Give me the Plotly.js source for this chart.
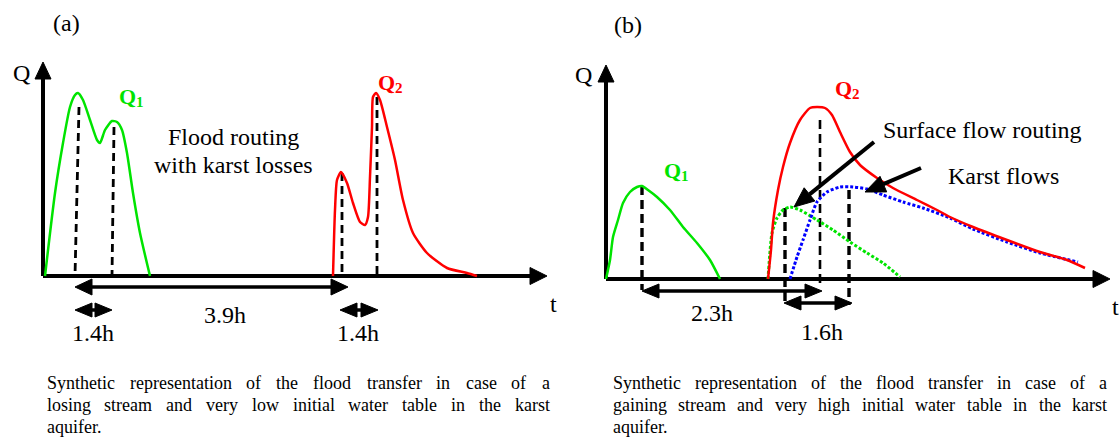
<!DOCTYPE html>
<html><head><meta charset="utf-8">
<script src="https://cdn.plot.ly/plotly-3.0.1.min.js"></script>
<style>html,body{margin:0;padding:0;background:#fff}#chart{width:1119px;height:437px}</style>
</head><body><div id="chart"></div>
<script>
// ---------- Panel (a): losing stream (schematic units) ----------
const q1a_t = [2, 12, 20, 27, 32, 35, 40, 47, 54, 57, 62, 69, 74, 79, 84, 90, 97, 107];
const q1a_q = [0, 83, 133, 169, 181, 183, 176, 156, 136, 133, 146, 155, 154, 146, 123, 83, 43, 0];
const q2a_t = [290, 292, 294, 298, 304, 310, 317, 322, 325, 327, 329, 330, 333, 337, 344, 352, 360, 370, 384, 404, 424, 434];
const q2a_q = [0, 66, 96, 104, 93, 73, 54, 51, 59, 99, 149, 179, 183, 176, 149, 116, 76, 43, 23, 8, 3, 0];
const peaksA_tTop = [36, 71, 299, 334];
const peaksA_qTop = [169, 149, 103, 179];
const peaksA_tBot = [32, 69, 299, 334];
const peaksA_qBot = [0, 0, 0, 0];
const intA_t0 = [32, 32, 297];
const intA_t1 = [305, 69, 335];
const intA_q = [-11, -34, -34];
const intA_label = ['3.9h', '1.4h', '1.4h'];
const intA_labelT = [182, 50, 315];
const intA_labelQ = [-39, -57, -57];

// ---------- Panel (b): gaining stream ----------
const q1b_t = [0, 4, 7, 12, 17, 24, 31, 36, 42, 51, 64, 77, 91, 104, 114];
const q1b_q = [0, 19, 42, 59, 76, 87, 92, 93, 89, 82, 69, 52, 36, 19, 0];
const q2b_t = [162, 165, 167, 172, 177, 184, 194, 204, 211, 219, 226, 234, 244, 254, 271, 287, 311, 331, 344, 367, 401, 434, 461, 479];
const q2b_q = [0, 29, 56, 89, 112, 136, 159, 171, 172, 171, 164, 147, 127, 114, 101, 91, 79, 69, 62, 52, 39, 27, 19, 11];
const surf_t = [162, 166, 171, 177, 184, 194, 211, 227, 244, 261, 277, 294];
const surf_q = [0, 46, 61, 69, 72, 69, 59, 49, 37, 26, 16, 2];
const karst_t = [184, 191, 197, 204, 211, 221, 234, 247, 261, 277, 297, 317, 344, 367, 401, 434, 472];
const karst_q = [0, 22, 39, 59, 77, 87, 92, 92, 90, 84, 77, 71, 61, 50, 37, 26, 17];
const peaksB_t = [36, 179, 214, 243];
const peaksB_qTop = [93, 71, 159, 89];
const peaksB_qBot = [-11, -24, -9, -26];
const intB_t0 = [36, 178];
const intB_t1 = [216, 246];
const intB_q = [-12, -24];
const intB_label = ['2.3h', '1.6h'];
const intB_labelT = [106, 216];
const intB_labelQ = [-34, -53];
// pointer arrows: tail -> tip
const ptr_t0 = [268, 315];
const ptr_q0 = [137, 111];
const ptr_t1 = [188, 259];
const ptr_q1 = [72, 87];

// captions
const captionA = ["Synthetic representation of the flood transfer in case of a",
                  "losing stream and very low initial water table in the karst",
                  "aquifer."];
const captionB = ["Synthetic representation of the flood transfer in case of a",
                  "gaining stream and very high initial water table in the karst",
                  "aquifer."];

const GREEN = 'rgb(0,228,0)', RED = '#ff0000', BLUE = '#0000ff', BLACK = '#000000';
const SERIF = 'Liberation Serif, Times New Roman, serif';
const W = 1119, H = 437;

const traces = [];
const annotations = [];

function line(xs, ys, ax, color, width, dash) {
  traces.push({x: xs, y: ys, xaxis: ax[0], yaxis: ax[1], mode: 'lines',
    line: {color: color, width: width, dash: dash || 'solid', shape: 'spline', smoothing: 0.6},
    hoverinfo: 'skip'});
}
function seg(x0, y0, x1, y1, ax, width, dash) {
  traces.push({x: [x0, x1], y: [y0, y1], xaxis: ax[0], yaxis: ax[1], mode: 'lines',
    line: {color: BLACK, width: width, dash: dash || 'solid'}, hoverinfo: 'skip'});
}
function head(tipX, tipY, fromX, fromY, len, wid, ax) {
  const dx = tipX - fromX, dy = tipY - fromY, L = Math.hypot(dx, dy);
  const ux = dx / L, uy = dy / L, bx = tipX - ux * len, by = tipY - uy * len;
  const px = -uy, py = ux;
  traces.push({x: [tipX, bx + px * wid / 2, bx - px * wid / 2, tipX],
               y: [tipY, by + py * wid / 2, by - py * wid / 2, tipY],
               xaxis: ax[0], yaxis: ax[1], mode: 'lines', fill: 'toself',
               fillcolor: BLACK, line: {color: BLACK, width: 1}, hoverinfo: 'skip'});
  return [bx, by];
}
function arrow(x0, y0, x1, y1, ax, width, len, wid) {
  const b = head(x1, y1, x0, y0, len, wid, ax);
  seg(x0, y0, b[0], b[1], ax, width);
}
function dblArrow(x0, x1, y, ax, width, len, wid) {
  const b1 = head(x0, y, x1, y, len, wid, ax);
  const b2 = head(x1, y, x0, y, len, wid, ax);
  seg(b1[0], y, b2[0], y, ax, width);
}
function label(text, x, y, ax, size, color, weight, xanchor) {
  annotations.push({text: text, x: x, y: y, xref: ax[0], yref: ax[1], showarrow: false,
    xanchor: xanchor || 'center', yanchor: 'middle', borderpad: 0, borderwidth: 0,
    font: {family: SERIF, size: size, color: color || BLACK, weight: weight || 'normal'}});
}
// "Q" with a subscript index, drawn as two plain texts
function qLabel(idx, x, y, ax, color) {
  label('Q', x + 6, y, ax, 22, color, 'bold', 'right');
  label(idx, x + 6, y - 6, ax, 15, color, 'bold', 'left');
}

const A = ['x', 'y'], B = ['x2', 'y2'];

// axes as arrows
arrow(0, 0, 0, 214, A, 4, 17, 16);
arrow(0, 0, 504, 0, A, 4, 17, 17);
arrow(0, 0, 0, 214, B, 4, 17, 16);
arrow(0, 0, 504, 0, B, 4, 17, 17);

// panel a dashed peak lines
for (let i = 0; i < peaksA_tTop.length; i++)
  seg(peaksA_tTop[i], peaksA_qTop[i], peaksA_tBot[i], peaksA_qBot[i], A, 2.8, '8px,5px');
// panel b dashed peak lines
for (let i = 0; i < peaksB_t.length; i++)
  seg(peaksB_t[i], peaksB_qTop[i], peaksB_t[i], peaksB_qBot[i], B, i === 2 ? 2.6 : 3.4, '9px,5px');

// curves
line(q1a_t, q1a_q, A, GREEN, 2.5);
line(q2a_t, q2a_q, A, RED, 2.5);
line(q1b_t, q1b_q, B, GREEN, 2.5);
line(surf_t, surf_q, B, GREEN, 3, '3px,2px');
line(karst_t, karst_q, B, BLUE, 3, '3px,2px');
line(q2b_t, q2b_q, B, RED, 2.5);

// interval arrows + labels
for (let i = 0; i < intA_t0.length; i++) {
  const big = i === 0;
  dblArrow(intA_t0[i], intA_t1[i], intA_q[i], A, 3.5, 17, big ? 16 : 14);
  label(intA_label[i], intA_labelT[i], intA_labelQ[i], A, 24);
}
for (let i = 0; i < intB_t0.length; i++) {
  dblArrow(intB_t0[i], intB_t1[i], intB_q[i], B, 3.5, 17, 14);
  label(intB_label[i], intB_labelT[i], intB_labelQ[i], B, 24);
}
for (let i = 0; i < ptr_t0.length; i++)
  arrow(ptr_t0[i], ptr_q0[i], ptr_t1[i], ptr_q1[i], B, 4, 20, 17);

// text labels
label('(a)', 23, 253, A, 24);
label('Q', -22, 203, A, 24);
label('t', 510, -28, A, 24);
qLabel('1', 87, 180, A, GREEN);
qLabel('2', 346, 194, A, RED);
label('Flood routing', 190, 139, A, 24);
label('with karst losses', 190, 111, A, 24);

label('(b)', 22, 254, B, 24);
label('Q', -23, 204, B, 24);
label('t', 509, -28, B, 24);
qLabel('1', 69, 109, B, GREEN);
qLabel('2', 240, 191, B, RED);
label('Surface flow routing', 376, 149, B, 24);
label('Karst flows', 397, 103, B, 24);

// captions, justified word by word
const CAP_SIZE = 18;
const ctx = document.createElement('canvas').getContext('2d');
ctx.font = CAP_SIZE + 'px "Liberation Serif"';
function caption(lines, x0, x1, yStart, dy) {
  lines.forEach((ln, li) => {
    const words = ln.split(' ');
    const ws = words.map(w => ctx.measureText(w).width);
    const sum = ws.reduce((a, b) => a + b, 0);
    const last = li === lines.length - 1;
    const gap = (!last && words.length > 1) ? (x1 - x0 - sum) / (words.length - 1) : ctx.measureText(' ').width;
    let x = x0;
    const y = yStart + li * dy;
    words.forEach((w, wi) => {
      annotations.push({text: w, x: x / W, y: 1 - y / H, xref: 'paper', yref: 'paper',
        showarrow: false, xanchor: 'left', yanchor: 'middle', borderpad: 0, borderwidth: 0,
        font: {family: SERIF, size: CAP_SIZE, color: BLACK}});
      x += ws[wi] + gap;
    });
  });
}
caption(captionA, 46.5, 549.5, 383, 22);
caption(captionB, 612.5, 1107, 383, 22);

const hidden = {visible: false, fixedrange: true, showgrid: false, zeroline: false};
const layout = {
  width: W, height: H, margin: {l: 0, r: 0, t: 0, b: 0},
  paper_bgcolor: '#ffffff', plot_bgcolor: 'rgba(0,0,0,0)', showlegend: false,
  font: {family: SERIF},
  xaxis: Object.assign({domain: [0, 0.5], range: [-43, 516.5]}, hidden),
  yaxis: Object.assign({domain: [0, 1], range: [-161, 276]}, hidden),
  xaxis2: Object.assign({domain: [0.5, 1], range: [-46.5, 513], anchor: 'y2'}, hidden),
  yaxis2: Object.assign({domain: [0, 1], range: [-158, 279], anchor: 'x2'}, hidden),
  annotations: annotations
};
Plotly.newPlot('chart', traces, layout, {staticPlot: true, displayModeBar: false}).then(gd => {
  gd.querySelectorAll('text').forEach(t => { if (!t.textContent.trim()) t.remove(); });
});
</script></body></html>
